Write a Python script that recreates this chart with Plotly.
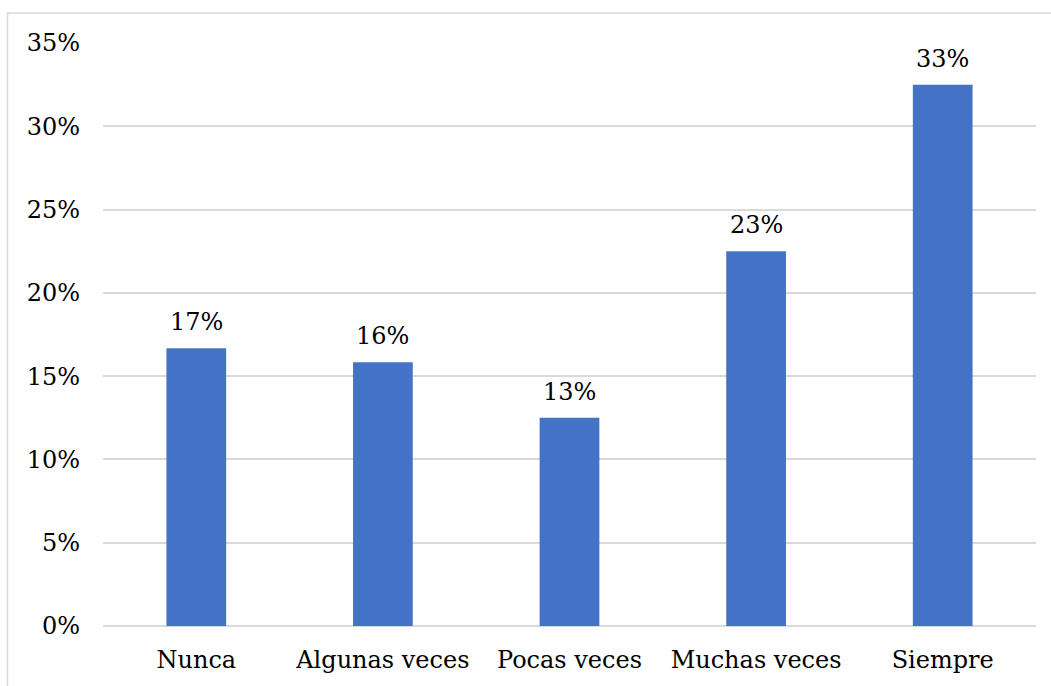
import plotly.graph_objects as go

categories = ["Nunca", "Algunas veces", "Pocas veces", "Muchas veces", "Siempre"]
values = [16.67, 15.83, 12.5, 22.5, 32.5]
labels = ["17%", "16%", "13%", "23%", "33%"]
tick_vals = [0, 5, 10, 15, 20, 25, 30, 35]
tick_text = ["0%", "5%", "10%", "15%", "20%", "25%", "30%", "35%"]

FONT = "DejaVu Serif"
W, H = 1051, 686
ML, MR, MT, MB = 103, 15, 43, 60

fig = go.Figure()
fig.add_trace(go.Bar(x=categories, y=values, marker=dict(color="#4472C4", line=dict(width=0)),
                     hoverinfo="skip"))

for c, v, t in zip(categories, values, labels):
    fig.add_annotation(x=c, y=v, text=t, showarrow=False, yanchor="bottom",
                       yshift=10, font=dict(family=FONT, size=24, color="#000000"))

pw = W - ML - MR
ph = H - MT - MB
bx0 = (7.5 - ML) / pw
by1 = (H - MB - 13) / ph
fig.add_shape(type="rect", xref="paper", yref="paper", x0=bx0, x1=1.5, y0=-0.5, y1=by1,
              line=dict(color="#D9D9D9", width=1.5), fillcolor="rgba(0,0,0,0)", layer="below")

fig.update_layout(
    width=W, height=H,
    margin=dict(l=ML, r=MR, t=MT, b=MB),
    paper_bgcolor="white", plot_bgcolor="white",
    bargap=0.68, showlegend=False,
    font=dict(family=FONT, size=24, color="#000000"),
    xaxis=dict(showgrid=False, showline=False, zeroline=False, ticks="",
               tickfont=dict(family=FONT, size=24), ticklabelstandoff=17),
    yaxis=dict(range=[0, 35], tickvals=tick_vals, ticktext=tick_text,
               showgrid=True, gridcolor="#D9D9D9", gridwidth=1.5,
               zeroline=True, zerolinecolor="#D9D9D9", zerolinewidth=1.5,
               showline=False, ticks="", ticklabelstandoff=22,
               tickfont=dict(family=FONT, size=24)),
)

fig.write_html("out.html")
